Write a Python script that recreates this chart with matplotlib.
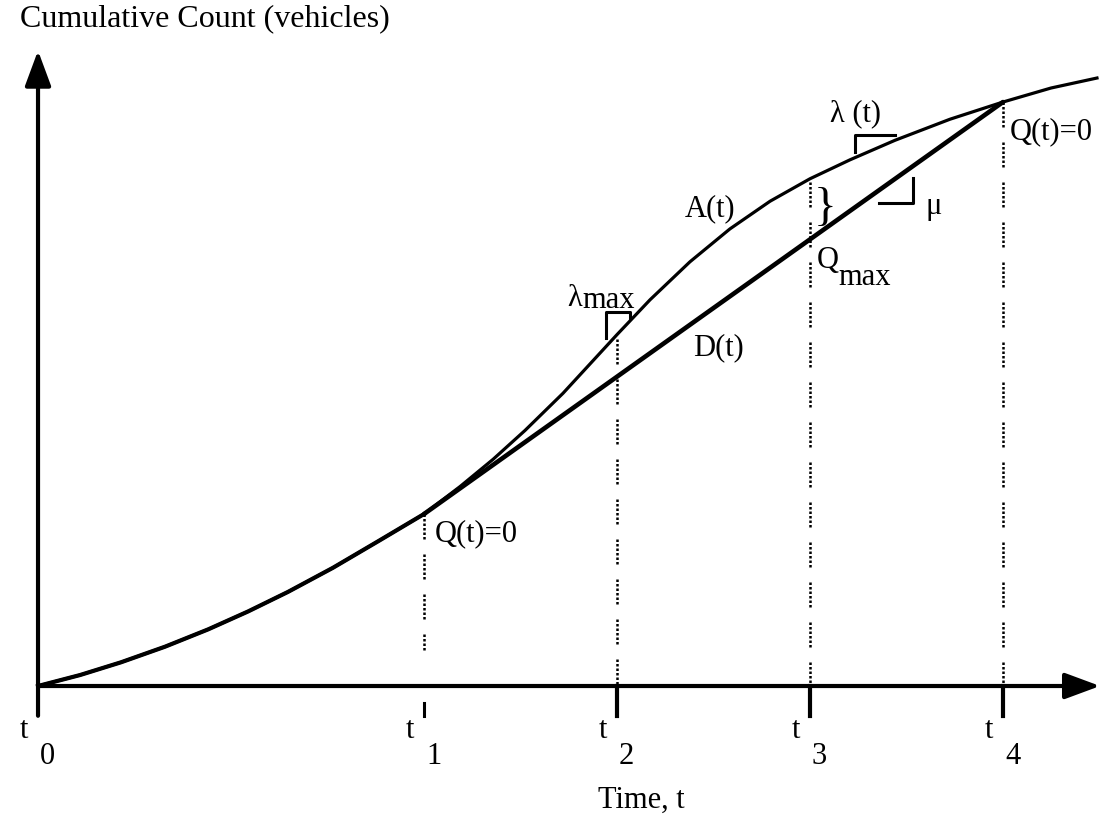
import matplotlib.pyplot as plt

plt.rcParams['font.family'] = ['Liberation Serif', 'DejaVu Serif']

arr_t = [0.0, 0.218, 0.430, 0.658, 0.881, 1.088, 1.295, 1.528, 1.762, 2.0,
         2.187, 2.358, 2.523, 2.720, 3.0, 3.171, 3.378, 3.585, 3.793, 4.0,
         4.207, 4.440, 4.725, 5.0, 5.249, 5.487]
arr_n = [0.0, 1.88, 4.06, 6.73, 9.69, 12.76, 16.11, 20.24, 24.78, 29.45,
         34.16, 38.82, 43.75, 50.12, 60.17, 66.13, 72.64, 78.27, 83.01, 86.86,
         90.10, 93.44, 97.05, 100.0, 102.40, 104.11]

# departure curve D(t): service at constant rate mu between t1 and t4
dep_t = [2.0, 5.0]
dep_n = [29.45, 100.0]

# marked instants and the span of each dotted guide
mark_t = [2.0, 3.0, 4.0, 5.0]
mark_top = [29.45, 59.5, 86.3, 100.0]
mark_bottom = [6.2, 0.0, 0.0, 0.0]
tick_lbl = ['0', '1', '2', '3', '4']
tick_t = [0.0, 2.0, 3.0, 4.0, 5.0]

fig = plt.figure(figsize=(11.02, 8.16), dpi=100)
ax = fig.add_axes([0, 0, 1, 1])
ax.set_xlim(-0.197, 5.513)
ax.set_ylim(-22.26, 117.47)
ax.axis('off')

fs = 22

# axes with arrow heads
arw = dict(arrowstyle='-|>,head_length=1.08,head_width=0.4', lw=3, color='black',
           mutation_scale=20, shrinkA=0, shrinkB=0)
ax.annotate('', xy=(0, 108.8), xytext=(0, -5.1), arrowprops=arw)
ax.annotate('', xy=(5.503, 0), xytext=(0, 0), arrowprops=arw)

# tick stubs below the time axis
ax.plot([2.0, 2.0], [-2.9, -5.1], color='black', lw=2.2)
for x in tick_t[2:]:
    ax.plot([x, x], [0, -5.1], color='black', lw=3)

# dotted guides: runs of dots with short breaks
dots = (0, (1, 0.8) * 5 + (1, 6.0))
for x, top, bot in zip(mark_t, mark_top, mark_bottom):
    ax.plot([x, x], [top, bot], color='black', lw=1.8, ls=dots,
            dash_capstyle='butt', zorder=1)

# curves
ax.plot(arr_t, arr_n, color='black', lw=2.3, solid_joinstyle='round', zorder=3)
ax.plot(arr_t[:10], arr_n[:10], color='black', lw=3.0, solid_joinstyle='round', zorder=3)
ax.plot(dep_t, dep_n, color='black', lw=3.3, solid_capstyle='round', zorder=3)

# slope indicators
ax.plot([2.943, 2.943, 3.067, 3.067], [59.6, 64.0, 64.0, 63.0], color='black', lw=2.2)
ax.plot([4.233, 4.233, 4.44], [91.4, 94.35, 94.35], color='black', lw=2.2)
ax.plot([4.358, 4.534, 4.534], [82.7, 82.7, 87.0], color='black', lw=2.2)

# time labels
for lbl, x in zip(tick_lbl, tick_t):
    ax.text(x - 0.052, -7.7, 't', fontsize=fs, ha='right', va='center')
    ax.text(x + 0.01, -12.0, lbl, fontsize=fs, ha='left', va='center')

ax.text(2.057, 26.0, 'Q(t)=0', fontsize=fs, ha='left', va='center')
ax.text(5.036, 95.0, 'Q(t)=0', fontsize=fs, ha='left', va='center')
ax.text(3.352, 81.7, 'A(t)', fontsize=fs, ha='left', va='center')
ax.text(3.394, 57.9, 'D(t)', fontsize=fs, ha='left', va='center')
ax.text(2.741, 65.0, 'λ', fontsize=fs, ha='left', va='baseline')
ax.text(2.822, 64.7, 'max', fontsize=fs, ha='left', va='baseline')
ax.text(4.104, 96.7, 'λ (t)', fontsize=fs, ha='left', va='baseline')
ax.text(4.596, 80.8, 'μ', fontsize=fs, ha='left', va='baseline')
ax.text(4.036, 72.9, 'Q', fontsize=fs, ha='left', va='center')
ax.text(4.145, 69.9, 'max', fontsize=fs, ha='left', va='center')
ax.text(4.02, 81.8, '}', fontsize=34, ha='left', va='center')

fig.text(20 / 1102, 1 - 19 / 816, 'Cumulative Count (vehicles)', fontsize=23,
         ha='left', va='center')
fig.text(598 / 1102, 1 - 800 / 816, 'Time, t', fontsize=fs, ha='left', va='center')

fig.savefig('out.png', dpi=100)
